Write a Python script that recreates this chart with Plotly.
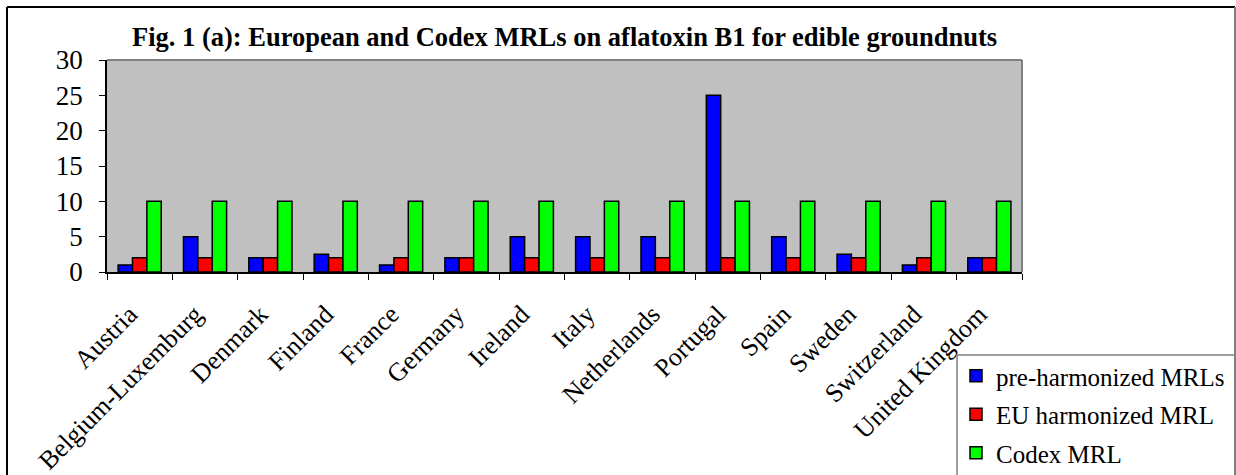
import plotly.graph_objects as go

countries = ["Austria", "Belgium-Luxemburg", "Denmark", "Finland", "France", "Germany",
             "Ireland", "Italy", "Netherlands", "Portugal", "Spain", "Sweden",
             "Switzerland", "United Kingdom"]
pre_harmonized = [1, 5, 2, 2.5, 1, 2, 5, 5, 5, 25, 5, 2.5, 1, 2]
eu_harmonized = [2, 2, 2, 2, 2, 2, 2, 2, 2, 2, 2, 2, 2, 2]
codex = [10, 10, 10, 10, 10, 10, 10, 10, 10, 10, 10, 10, 10, 10]
y_ticks = [0, 5, 10, 15, 20, 25, 30]

W, H = 1236, 475
L, R, T, B = 107, 214, 60, 203
pw, ph = W - L - R, H - T - B

def px(x):
    return (x - L) / pw

def py(y):
    return (H - B - y) / ph

serif = "Liberation Serif, Times New Roman, serif"

fig = go.Figure()
series = [("pre-harmonized MRLs", pre_harmonized, "#0000FF"),
          ("EU harmonized MRL", eu_harmonized, "#FF0000"),
          ("Codex MRL", codex, "#00FF00")]
for i, (name, vals, col) in enumerate(series):
    fig.add_trace(go.Bar(x=countries, y=vals, name=name, legendgroup=f"g{i}",
                         marker=dict(color=col, line=dict(color="black", width=1.5))))

fig.update_layout(
    width=W, height=H,
    margin=dict(l=L, r=R, t=T, b=B, autoexpand=False),
    paper_bgcolor="white",
    plot_bgcolor="#C0C0C0",
    barmode="group",
    bargap=0.34,
    bargroupgap=0,
    font=dict(family=serif, color="black"),
    showlegend=True,
    legend=dict(x=px(956), y=py(353), xanchor="left", yanchor="top",
                font=dict(size=25, family=serif), bgcolor="rgba(0,0,0,0)",
                borderwidth=0, tracegroupgap=3, itemwidth=30),
    xaxis=dict(tickangle=-45, ticks="outside", tickson="boundaries", ticklen=6,
               tickcolor="black", showline=True, linecolor="black", linewidth=1.5,
               tickfont=dict(size=26, family=serif), showgrid=False, automargin=False,
               ticklabelstandoff=15, ticklabelshift=-10),
    yaxis=dict(range=[0, 30], tickvals=y_ticks, ticks="outside", ticklen=6,
               tickcolor="black", showline=True, linecolor="black", linewidth=1.5,
               tickfont=dict(size=27, family=serif), showgrid=False, zeroline=False,
               automargin=False, ticklabelstandoff=11),
    annotations=[dict(text="<b>Fig. 1 (a): European and Codex MRLs on aflatoxin B1 for edible groundnuts</b>",
                      x=0.5, y=py(37), xref="paper", yref="paper", showarrow=False,
                      xanchor="center", yanchor="middle",
                      font=dict(size=26.5, family=serif, color="black"))],
    shapes=[
        dict(type="line", xref="paper", yref="paper", x0=0, x1=1, y0=1, y1=1,
             line=dict(color="#808080", width=2)),
        dict(type="line", xref="paper", yref="paper", x0=1, x1=1, y0=0, y1=1,
             line=dict(color="#808080", width=2)),
        dict(type="line", xref="paper", yref="paper", x0=px(7), x1=px(1235), y0=py(7), y1=py(7),
             line=dict(color="black", width=2)),
        dict(type="line", xref="paper", yref="paper", x0=px(7), x1=px(7), y0=py(7), y1=py(480),
             line=dict(color="black", width=2)),
        dict(type="line", xref="paper", yref="paper", x0=px(1235), x1=px(1235), y0=py(7), y1=py(480),
             line=dict(color="#808080", width=2)),
        dict(type="rect", xref="paper", yref="paper", x0=px(957), x1=px(1245), y0=py(355), y1=py(490),
             line=dict(color="#808080", width=1.5), fillcolor="rgba(0,0,0,0)"),
    ],
)

fig.write_html("out.html", config={"displayModeBar": False},
               post_script="document.body.style.margin='0';")
